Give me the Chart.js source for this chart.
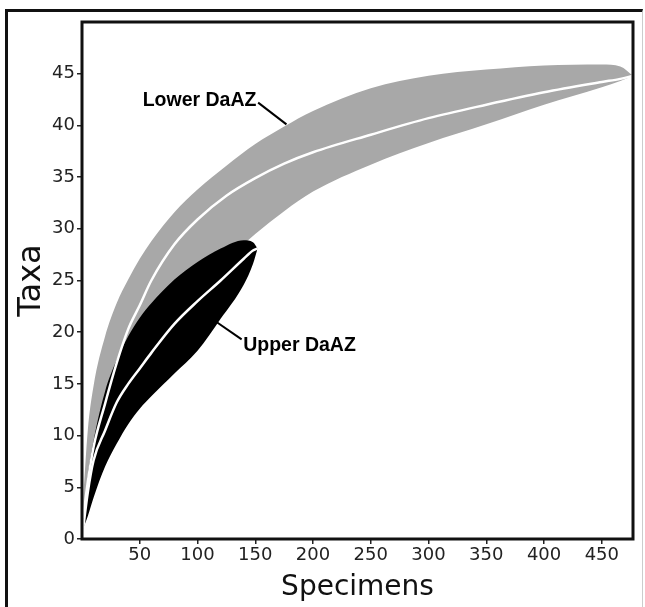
<!DOCTYPE html>
<html>
<head>
<meta charset="utf-8">
<title>Rarefaction curves</title>
<script src="https://cdn.jsdelivr.net/npm/chart.js@4.4.0/dist/chart.umd.min.js"></script>
<style>
    html, body { margin: 0; padding: 0; background: #fff; }
    #wrap { position: relative; width: 645px; height: 607px; overflow: hidden; }
    #frame { position: absolute; left: 5px; top: 9px; width: 634px; height: 620px;
             border: 3px solid #111; border-right: 1px solid #ccc; }
    #chart { position: absolute; left: 0; top: 0; }
</style>
</head>
<body>
<div id="wrap">
    <div id="frame"></div>
    <canvas id="chart" width="645" height="607"></canvas>
</div>
<script>
// Lower DaAZ: rarefaction curve with its confidence band
const specimensLower = [1, 5, 10, 20, 30, 40, 50, 60, 80, 100, 125, 150, 175, 200, 250, 300, 350, 400, 450, 466, 477];
const lowerHigh = [4, 10.5, 14.8, 19.6, 22.8, 25.1, 27.1, 28.8, 31.6, 33.8, 36.1, 38.2, 39.9, 41.4, 43.6, 44.8, 45.4, 45.8, 45.9, 45.7, 44.8];
const lowerMean = [2, 5.5, 8.9, 13.1, 17, 20.3, 22.6, 25, 28.5, 30.9, 33.2, 34.9, 36.3, 37.4, 39.1, 40.7, 42.0, 43.2, 44.2, 44.5, 44.8];
const lowerLow = [1, 3.5, 5.5, 9.5, 13, 16, 18.5, 20.5, 23, 24.5, 27, 29.5, 31.7, 33.6, 36.2, 38.3, 40.1, 42.0, 43.7, 44.3, 44.8];

// Upper DaAZ
const specimensUpper = [1, 5, 10, 20, 30, 40, 50, 60, 80, 100, 120, 140, 148, 152];
const upperHigh = [1.5, 6, 9.5, 14.3, 17.3, 19.6, 21.4, 22.8, 25.1, 26.8, 28.1, 28.9, 28.7, 28.1];
const upperMean = [1, 4.5, 7.6, 10.5, 13.2, 15, 16.5, 18, 20.8, 23, 25, 27.1, 27.9, 28.1];
const upperLow = [1, 2.2, 4, 7, 9.2, 11.1, 12.6, 13.8, 16, 18.2, 21.3, 24.6, 26.6, 28.1];

const seriesNames = ['Lower DaAZ', 'Upper DaAZ'];
const xTicks = [50, 100, 150, 200, 250, 300, 350, 400, 450];
const yTicks = [0, 5, 10, 15, 20, 25, 30, 35, 40, 45];

const GRAY = '#a8a8a8';
const tickFont = { family: 'DejaVu Sans', size: 18 };

function toPoints(xs, ys) {
    return xs.map(function(x, i) { return { x: x, y: ys[i] }; });
}

function curve(xs, ys, extra) {
    return Object.assign({
        data: toPoints(xs, ys),
        borderWidth: 0,
        pointRadius: 0,
        cubicInterpolationMode: 'monotone',
        fill: false
    }, extra);
}

// Frame round the plot area, drawn over the bands
const plotFrame = {
    id: 'plotFrame',
    afterDatasetsDraw(chart) {
        const a = chart.chartArea;
        const ctx = chart.ctx;
        ctx.save();
        ctx.strokeStyle = '#111';
        ctx.lineWidth = 3;
        ctx.strokeRect(a.left, a.top, a.right - a.left, a.bottom - a.top);
        ctx.restore();
    }
};

// Series names with leader lines, placed in data units
const notes = [
    { text: seriesNames[0], at: [151, 42.4], align: 'right', from: [152.5, 42.2], to: [177, 40.1] },
    { text: seriesNames[1], at: [139.5, 18.7], align: 'left', from: [138.2, 19.3], to: [113.6, 21.2] }
];

const seriesNotes = {
    id: 'seriesNotes',
    afterDatasetsDraw(chart) {
        const x = chart.scales.x, y = chart.scales.y;
        const ctx = chart.ctx;
        ctx.save();
        ctx.fillStyle = '#000';
        ctx.strokeStyle = '#000';
        ctx.lineWidth = 2;
        ctx.font = 'bold 19.5px "Liberation Sans", Arial, sans-serif';
        ctx.textBaseline = 'middle';
        notes.forEach(function(n) {
            ctx.beginPath();
            ctx.moveTo(x.getPixelForValue(n.from[0]), y.getPixelForValue(n.from[1]));
            ctx.lineTo(x.getPixelForValue(n.to[0]), y.getPixelForValue(n.to[1]));
            ctx.stroke();
            ctx.textAlign = n.align;
            ctx.fillText(n.text, x.getPixelForValue(n.at[0]), y.getPixelForValue(n.at[1]));
        });
        ctx.restore();
    }
};

document.addEventListener('DOMContentLoaded', function() {
    const ctx = document.getElementById('chart').getContext('2d');
    new Chart(ctx, {
        type: 'line',
        data: {
            datasets: [
                // 0, 1: gray band (drawn first)
                curve(specimensLower, lowerHigh, { label: seriesNames[0], fill: 1, backgroundColor: GRAY, order: 5 }),
                curve(specimensLower, lowerLow, { order: 5 }),
                // 2, 3: black band
                curve(specimensUpper, upperHigh, { label: seriesNames[1], fill: 3, backgroundColor: '#000', order: 3 }),
                curve(specimensUpper, upperLow, { order: 3 }),
                // white mean curves on top
                curve(specimensUpper, upperMean, { borderColor: '#fff', borderWidth: 2.5, order: 2 }),
                curve(specimensLower, lowerMean, { borderColor: '#fff', borderWidth: 2.5, order: 1 })
            ]
        },
        options: {
            responsive: false,
            animation: false,
            layout: { padding: { top: 22, right: 12, bottom: 0, left: 0 } },
            plugins: {
                legend: { display: false },
                tooltip: { enabled: false }
            },
            scales: {
                x: {
                    type: 'linear',
                    min: 0,
                    max: 477,
                    afterBuildTicks: function(scale) {
                        scale.ticks = xTicks.map(function(v) { return { value: v }; });
                    },
                    afterFit: function(scale) { scale.height = 68; },
                    grid: { drawOnChartArea: false, tickLength: 5, color: '#222', lineWidth: 1.5 },
                    border: { display: false },
                    ticks: { font: tickFont, color: '#222', padding: 1, maxRotation: 0, autoSkip: false },
                    title: {
                        display: true,
                        text: 'Specimens',
                        color: '#111',
                        font: { family: 'DejaVu Sans', size: 28 },
                        padding: { top: 0, bottom: 2 }
                    }
                },
                y: {
                    type: 'linear',
                    min: 0,
                    max: 50,
                    afterBuildTicks: function(scale) {
                        scale.ticks = yTicks.map(function(v) { return { value: v }; });
                    },
                    afterFit: function(scale) { scale.width = 82; },
                    grid: { drawOnChartArea: false, tickLength: 5, color: '#222', lineWidth: 1.5 },
                    border: { display: false },
                    ticks: { font: tickFont, color: '#222', padding: 2 },
                    title: {
                        display: true,
                        text: 'Taxa',
                        color: '#111',
                        font: { family: 'DejaVu Sans', size: 32 },
                        padding: { top: 12, bottom: 0 }
                    }
                }
            }
        },
        plugins: [plotFrame, seriesNotes]
    });
});
</script>
</body>
</html>
